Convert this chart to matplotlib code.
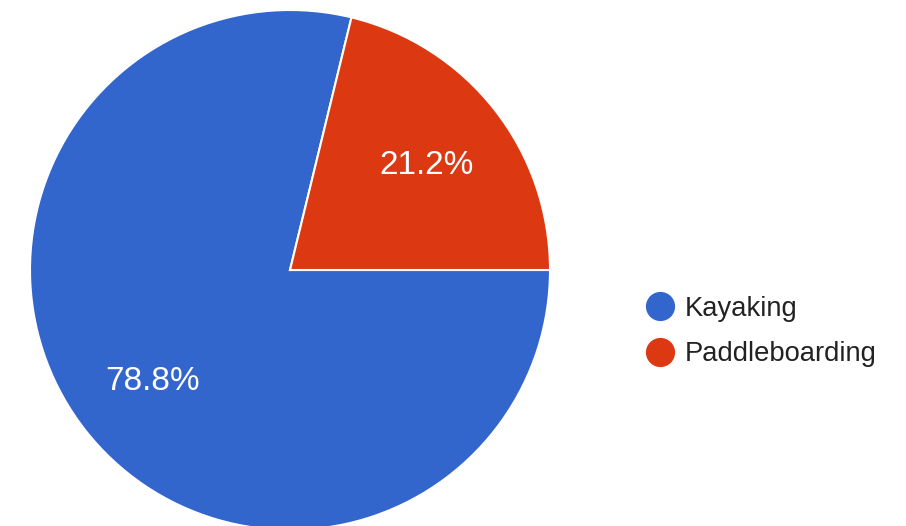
import matplotlib.pyplot as plt
from matplotlib.lines import Line2D

labels = ['Kayaking', 'Paddleboarding']
shares = [78.8, 21.2]
colors = ['#3366cc', '#dc3912']

plt.rcParams['font.family'] = ['Liberation Sans', 'DejaVu Sans']

W, H = 906, 526
fig = plt.figure(figsize=(W / 100, H / 100), dpi=100)

# pie centred at (290, 270) px with a 260 px radius
cx, cy, r = 290, 270, 260
ax = fig.add_axes([(cx - r) / W, (H - cy - r) / H, 2 * r / W, 2 * r / H])
wedges, texts, autotexts = ax.pie(
    shares, colors=colors, startangle=0, counterclock=False,
    autopct='%.1f%%', pctdistance=0.67,
    wedgeprops=dict(edgecolor='white', linewidth=1.5),
    textprops=dict(color='white', fontsize=24))
for t in autotexts:
    t.set_va('center_baseline')
ax.set_xlim(-1, 1)
ax.set_ylim(-1, 1)
ax.set_aspect('equal')

handles = [Line2D([], [], marker='o', linestyle='none', markersize=20,
                  markerfacecolor=c, markeredgecolor=c) for c in colors]
fig.legend(handles, labels, loc='center left', bbox_to_anchor=(646 / W, 1 - 331.5 / H),
           frameon=False, fontsize=19.7, labelcolor='#222222', handlelength=1.0,
           handletextpad=0.42, labelspacing=0.72, borderpad=0, borderaxespad=0)

fig.savefig('out.png', dpi=100)
